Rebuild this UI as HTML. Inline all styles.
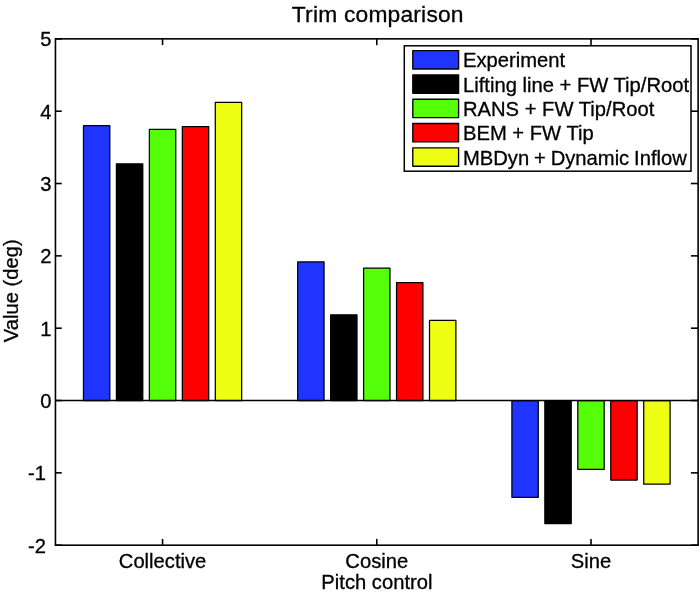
<!DOCTYPE html>
<html lang="en"><head><meta charset="utf-8"><title>Trim comparison</title>
<style>html,body{margin:0;padding:0;background:#fff}svg{display:block}text{stroke:#000;stroke-width:0.3px;font-family:"Liberation Sans",sans-serif;fill:#000}</style></head><body>
<svg width="700" height="594" viewBox="0 0 700 594">
<rect width="700" height="594" fill="#fff"/>
<g stroke="#000" stroke-width="1.25" stroke-linejoin="round">
<rect x="83.46" y="125.65" width="26.37" height="274.88" fill="#1f35ff"/>
<rect x="116.42" y="163.85" width="26.37" height="236.68" fill="#000000"/>
<rect x="149.38" y="129.27" width="26.37" height="271.26" fill="#55ff0a"/>
<rect x="182.33" y="126.52" width="26.37" height="274.01" fill="#ff0000"/>
<rect x="215.29" y="102.36" width="26.37" height="298.17" fill="#efff14"/>
<rect x="297.68" y="261.93" width="26.37" height="138.60" fill="#1f35ff"/>
<rect x="330.64" y="314.81" width="26.37" height="85.72" fill="#000000"/>
<rect x="363.59" y="268.15" width="26.37" height="132.37" fill="#55ff0a"/>
<rect x="396.55" y="282.62" width="26.37" height="117.91" fill="#ff0000"/>
<rect x="429.51" y="320.38" width="26.37" height="80.15" fill="#efff14"/>
<rect x="511.90" y="400.53" width="26.37" height="96.79" fill="#1f35ff"/>
<rect x="544.85" y="400.53" width="26.37" height="122.97" fill="#000000"/>
<rect x="577.81" y="400.53" width="26.37" height="68.72" fill="#55ff0a"/>
<rect x="610.77" y="400.53" width="26.37" height="79.57" fill="#ff0000"/>
<rect x="643.72" y="400.53" width="26.37" height="83.69" fill="#efff14"/>
</g>
<g stroke="#000" stroke-width="1.6" fill="none">
<rect x="55.45" y="38.85" width="642.65" height="506.35"/>
<line x1="55.45" y1="400.53" x2="698.1" y2="400.53"/>
<line x1="55.45" y1="545.20" x2="61.75" y2="545.20"/>
<line x1="698.1" y1="545.20" x2="690.90" y2="545.20"/>
<line x1="55.45" y1="472.86" x2="61.75" y2="472.86"/>
<line x1="698.1" y1="472.86" x2="690.90" y2="472.86"/>
<line x1="55.45" y1="400.53" x2="61.75" y2="400.53"/>
<line x1="698.1" y1="400.53" x2="690.90" y2="400.53"/>
<line x1="55.45" y1="328.19" x2="61.75" y2="328.19"/>
<line x1="698.1" y1="328.19" x2="690.90" y2="328.19"/>
<line x1="55.45" y1="255.86" x2="61.75" y2="255.86"/>
<line x1="698.1" y1="255.86" x2="690.90" y2="255.86"/>
<line x1="55.45" y1="183.52" x2="61.75" y2="183.52"/>
<line x1="698.1" y1="183.52" x2="690.90" y2="183.52"/>
<line x1="55.45" y1="111.19" x2="61.75" y2="111.19"/>
<line x1="698.1" y1="111.19" x2="690.90" y2="111.19"/>
<line x1="55.45" y1="38.85" x2="61.75" y2="38.85"/>
<line x1="698.1" y1="38.85" x2="690.90" y2="38.85"/>
<line x1="162.56" y1="545.2" x2="162.56" y2="538.90"/>
<line x1="162.56" y1="38.85" x2="162.56" y2="45.15"/>
<line x1="376.77" y1="545.2" x2="376.77" y2="538.90"/>
<line x1="376.77" y1="38.85" x2="376.77" y2="45.15"/>
<line x1="590.99" y1="545.2" x2="590.99" y2="538.90"/>
<line x1="590.99" y1="38.85" x2="590.99" y2="45.15"/>
</g>
<g font-size="20.2" text-anchor="end">
<text x="46.0" y="552.80">-2</text>
<text x="46.0" y="480.46">-1</text>
<text x="51.4" y="408.13">0</text>
<text x="51.4" y="335.79">1</text>
<text x="51.4" y="263.46">2</text>
<text x="51.4" y="191.12">3</text>
<text x="51.4" y="118.79">4</text>
<text x="51.4" y="46.45">5</text>
</g>
<g font-size="20.2" text-anchor="middle">
<text x="162.56" y="567.6">Collective</text>
<text x="376.77" y="567.6">Cosine</text>
<text x="590.99" y="567.6">Sine</text>
<text x="376.9" y="588.7">Pitch control</text>
<text transform="translate(17.5,290.83) rotate(-90)">Value (deg)</text>
</g>
<text x="377.8" y="21.9" font-size="22.8" letter-spacing="0.2" text-anchor="middle">Trim comparison</text>
<rect x="404.3" y="45.8" width="286.70" height="125.40" fill="#fff" stroke="#000" stroke-width="1.5"/>
<g font-size="20.2">
<rect x="412.8" y="50.60" width="45.8" height="18.4" fill="#1f35ff" stroke="#000" stroke-width="1.35" stroke-linejoin="round"/>
<text x="463.0" y="67.20">Experiment</text>
<rect x="412.8" y="74.90" width="45.8" height="18.4" fill="#000000" stroke="#000" stroke-width="1.35" stroke-linejoin="round"/>
<text x="463.0" y="91.70">Lifting line + FW Tip/Root</text>
<rect x="412.8" y="99.20" width="45.8" height="18.4" fill="#55ff0a" stroke="#000" stroke-width="1.35" stroke-linejoin="round"/>
<text x="463.0" y="115.95">RANS + FW Tip/Root</text>
<rect x="412.8" y="123.50" width="45.8" height="18.4" fill="#ff0000" stroke="#000" stroke-width="1.35" stroke-linejoin="round"/>
<text x="463.0" y="140.30">BEM + FW Tip</text>
<rect x="412.8" y="147.80" width="45.8" height="18.4" fill="#efff14" stroke="#000" stroke-width="1.35" stroke-linejoin="round"/>
<text x="463.0" y="164.80" word-spacing="-0.75">MBDyn + Dynamic Inflow</text>
</g>
</svg></body></html>
